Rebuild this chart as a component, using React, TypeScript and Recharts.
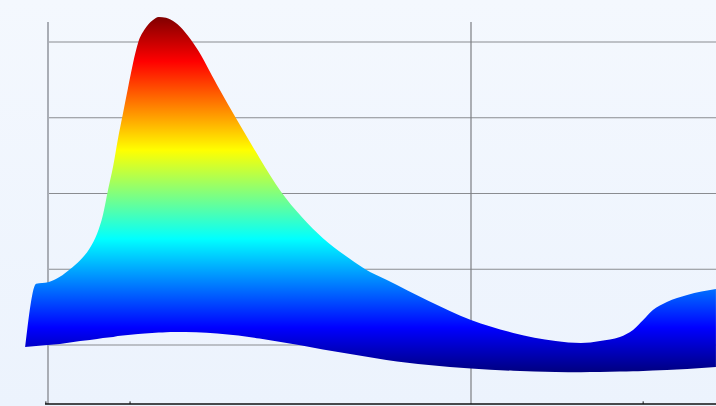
import { Area, ComposedChart, ReferenceLine, XAxis, YAxis } from "recharts";

// position along the band (grid lines sit at 0 and 10)
const xs = [
  -0.54, -0.28, 0, 0.28, 0.52, 0.76, 0.99, 1.16, 1.3, 1.42, 1.54, 1.65, 1.77, 1.89, 2.01, 2.13,
  2.29, 2.46, 2.62, 2.79, 3.0, 3.5, 4.0, 4.5, 5.0, 5.5, 6.0, 6.5, 7.0, 7.5, 8.0, 9.0, 10.0, 11.0,
  12.0, 12.6, 13.05, 13.52, 13.83, 14.07, 14.3, 14.63, 15.11, 15.79,
];
const upper = [
  -0.02, 0.81, 0.83, 0.9, 1.0, 1.12, 1.28, 1.47, 1.72, 2.05, 2.36, 2.71, 3.05, 3.39, 3.72, 3.99,
  4.17, 4.28, 4.33, 4.32, 4.26, 3.93, 3.43, 2.94, 2.47, 2.03, 1.69, 1.41, 1.19, 1.0, 0.86, 0.58,
  0.33, 0.16, 0.053, 0.026, 0.053, 0.106, 0.198, 0.33, 0.462, 0.568, 0.66, 0.739,
];
const lower = [
  -0.026, -0.013, 0, 0.013, 0.033, 0.053, 0.066, 0.079, 0.092, 0.099, 0.106, 0.119, 0.125, 0.132,
  0.139, 0.145, 0.152, 0.158, 0.165, 0.169, 0.173, 0.169, 0.152, 0.125, 0.086, 0.04, -0.007,
  -0.059, -0.106, -0.152, -0.198, -0.264, -0.31, -0.341, -0.356, -0.359, -0.357, -0.351, -0.346,
  -0.342, -0.337, -0.329, -0.316, -0.29,
];

const gridY = [0, 1, 2, 3, 4];
const gridX = [0, 10];
const axisTicks = [-0.05, 1.94, 14.07];

const jet = [
  { offset: 0, color: "#800000" },
  { offset: 0.125, color: "#ff0000" },
  { offset: 0.375, color: "#ffff00" },
  { offset: 0.625, color: "#00ffff" },
  { offset: 0.875, color: "#0000ff" },
  { offset: 1, color: "#000080" },
];

const data = xs.map((x, i) => ({ x, band: [lower[i], upper[i]] }));

const W = 716;
const H = 406;
const X_MIN = -48 / 42.3;
const X_MAX = 668 / 42.3;
const Y_MIN = -61 / 75.75;
const Y_MAX = 345 / 75.75;
const GRID_TOP = 323 / 75.75;
const AXIS_Y = -59 / 75.75;
const noMargin = { top: 0, right: 0, bottom: 0, left: 0 };
const layer = { position: "absolute" as const, left: 0, top: 0 };

function Axes() {
  return (
    <>
      <XAxis type="number" dataKey="x" domain={[X_MIN, X_MAX]} allowDataOverflow hide />
      <YAxis type="number" domain={[Y_MIN, Y_MAX]} allowDataOverflow hide />
    </>
  );
}

export default function App() {
  return (
    <div
      style={{
        ...layer,
        width: W,
        height: H,
        overflow: "hidden",
        background: "linear-gradient(180deg, #f4f8fe 0%, #ecf3fd 100%)",
      }}
    >
      {/* grid underneath */}
      <div style={layer}>
        <ComposedChart width={W} height={H} data={data} margin={noMargin}>
          <XAxis type="number" dataKey="x" domain={[X_MIN, X_MAX]} allowDataOverflow hide />
          <YAxis type="number" domain={[Y_MIN, Y_MAX]} allowDataOverflow hide />
          {gridY.map((y) => (
            <ReferenceLine key={"h" + y} segment={[{ x: 0, y }, { x: X_MAX, y }]} stroke="#8a8c90" strokeWidth={1.2} />
          ))}
          {gridX.map((x) => (
            <ReferenceLine
              key={"v" + x}
              segment={[{ x, y: GRID_TOP }, { x, y: AXIS_Y }]}
              stroke={x === 0 ? "#a9adb5" : "#7c7e82"}
              strokeWidth={x === 0 ? 2 : 1.2}
            />
          ))}
        </ComposedChart>
      </div>
      {/* surface band on top */}
      <div style={layer}>
        <ComposedChart width={W} height={H} data={data} margin={noMargin}>
          <defs>
            <linearGradient id="jet" x1="0" y1="0" x2="0" y2="1">
              {jet.map((s) => (
                <stop key={s.offset} offset={s.offset} stopColor={s.color} />
              ))}
            </linearGradient>
          </defs>
          <XAxis type="number" dataKey="x" domain={[X_MIN, X_MAX]} allowDataOverflow hide />
          <YAxis type="number" domain={[Y_MIN, Y_MAX]} allowDataOverflow hide />
          <Area
            type="monotone"
            dataKey="band"
            fill="url(#jet)"
            fillOpacity={1}
            stroke="none"
            dot={false}
            activeDot={false}
            isAnimationActive={false}
          />
          <ReferenceLine segment={[{ x: -0.07, y: AXIS_Y }, { x: X_MAX, y: AXIS_Y }]} stroke="#111" strokeWidth={1.5} />
          {axisTicks.map((x) => (
            <ReferenceLine key={"t" + x} segment={[{ x, y: AXIS_Y }, { x, y: AXIS_Y + 0.035 }]} stroke="#111" strokeWidth={1} />
          ))}
        </ComposedChart>
      </div>
    </div>
  );
}
